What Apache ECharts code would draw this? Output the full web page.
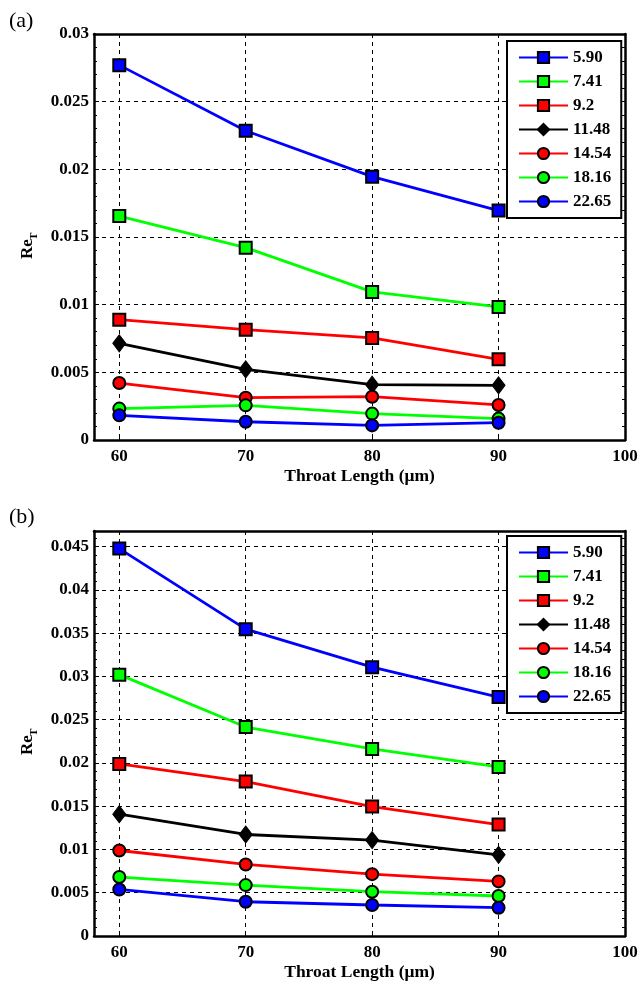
<!DOCTYPE html>
<html>
<head>
<meta charset="utf-8">
<script src="https://cdn.jsdelivr.net/npm/echarts@6/dist/echarts.min.js"></script>
<style>html,body{margin:0;padding:0;background:#fff;}#c{width:641px;height:985px;}</style>
</head>
<body>
<div id="c"></div>
<script>
// ---- data ----
const throatLength = [60, 70, 80, 90];
const xTickValues = [60, 70, 80, 90, 100];
const seriesNames = ['5.90', '7.41', '9.2', '11.48', '14.54', '18.16', '22.65'];
const seriesColors = ['#0000ff', '#00ff00', '#ff0000', '#000000', '#ff0000', '#00ff00', '#0000ff'];
const seriesSymbols = ['rect', 'rect', 'rect', 'diamond', 'circle', 'circle', 'circle'];
const yMaxA = 0.03;
const yMaxB = 0.0468;

// panel (a)
const a_590 = [0.0277, 0.02285, 0.01946, 0.01695];
const a_741 = [0.01655, 0.01421, 0.01094, 0.00983];
const a_920 = [0.00889, 0.00815, 0.00754, 0.00596];
const a_1148 = [0.00714, 0.00522, 0.00409, 0.00404];
const a_1454 = [0.00421, 0.00313, 0.0032, 0.00259];
const a_1816 = [0.00232, 0.00256, 0.00195, 0.00158];
const a_2265 = [0.00182, 0.00135, 0.00108, 0.00128];

// panel (b)
const b_590 = [0.04477, 0.03546, 0.03107, 0.02761];
const b_741 = [0.0302, 0.02415, 0.02162, 0.01954];
const b_920 = [0.01988, 0.01785, 0.01496, 0.01288];
const b_1148 = [0.01408, 0.01173, 0.01108, 0.00938];
const b_1454 = [0.00988, 0.00827, 0.00715, 0.00631];
const b_1816 = [0.00681, 0.00588, 0.00512, 0.00462];
const b_2265 = [0.00538, 0.00396, 0.00358, 0.00327];

const panelA = [a_590, a_741, a_920, a_1148, a_1454, a_1816, a_2265];
const panelB = [b_590, b_741, b_920, b_1148, b_1454, b_1816, b_2265];

// ---- chart ----
const FONT = "'Liberation Serif', 'Times New Roman', serif";
const chart = echarts.init(document.getElementById('c'), null, {renderer: 'canvas'});

const grids = [
  {left: 94, top: 34, width: 531, height: 406},
  {left: 94, top: 531, width: 531, height: 405}
];

const dashed = {type: [4, 4], color: '#000', width: 1};

function bottomX(gi) {
  return {
    gridIndex: gi, type: 'value', min: 58, max: 100, position: 'bottom',
    axisLine: {show: true, onZero: false, lineStyle: {color: '#000', width: 2.5}},
    axisTick: {show: true, inside: true, length: 5, customValues: xTickValues, lineStyle: {color: '#000'}},
    axisLabel: {customValues: xTickValues, color: '#000', fontSize: 17, fontWeight: 'bold', fontFamily: FONT, margin: 8},
    splitLine: {show: true, lineStyle: dashed},
    name: 'Throat Length (\u03bcm)', nameLocation: 'middle', nameGap: 27,
    nameTextStyle: {color: '#000', fontSize: 17.5, fontWeight: 'bold', fontFamily: FONT}
  };
}
function topX(gi) {
  return {
    gridIndex: gi, type: 'value', min: 58, max: 100, position: 'top',
    axisLine: {show: true, onZero: false, lineStyle: {color: '#000', width: 2.5}},
    axisTick: {show: false}, axisLabel: {show: false}, splitLine: {show: false}
  };
}
function leftY(gi, max) {
  return {
    gridIndex: gi, type: 'value', min: 0, max: max, interval: 0.005, position: 'left',
    axisLine: {show: true, onZero: false, lineStyle: {color: '#000', width: 2.5}},
    axisTick: {show: true, inside: true, length: 5, lineStyle: {color: '#000'}},
    minorTick: {show: true, splitNumber: 5, length: 3, lineStyle: {color: '#000'}},
    axisLabel: {color: '#000', fontSize: 17, fontWeight: 'bold', fontFamily: FONT, margin: 5, showMaxLabel: max === yMaxA},
    splitLine: {show: true, lineStyle: dashed}
  };
}
function rightY(gi, max) {
  return {
    gridIndex: gi, type: 'value', min: 0, max: max, interval: 0.005, position: 'right',
    axisLine: {show: true, onZero: false, lineStyle: {color: '#000', width: 2.5}},
    axisTick: {show: true, inside: true, length: 5, lineStyle: {color: '#000'}},
    minorTick: {show: true, splitNumber: 5, length: 3, lineStyle: {color: '#000'}},
    axisLabel: {show: false}, splitLine: {show: false}
  };
}

function makeSeries(panel, gi) {
  return panel.map((vals, k) => ({
    name: seriesNames[k], type: 'line',
    xAxisIndex: gi * 2, yAxisIndex: gi * 2,
    data: throatLength.map((x, j) => [x, vals[j]]),
    symbol: seriesSymbols[k],
    symbolSize: seriesSymbols[k] === 'diamond' ? [13, 17] : 12,
    showAllSymbol: true,
    lineStyle: {color: seriesColors[k], width: 2.8},
    itemStyle: {color: seriesColors[k], borderColor: '#000', borderWidth: seriesSymbols[k] === 'diamond' ? 1 : 2},
    emphasis: {disabled: true},
    z: 3 + k * 0.01
  }));
}

function legendAt(top) {
  return {
    orient: 'vertical', left: 507, top: top,
    padding: [8, 10, 8, 11], itemWidth: 49, itemHeight: 14, itemGap: 7,
    borderColor: '#000', borderWidth: 2, backgroundColor: '#fff',
    textStyle: {color: '#000', fontSize: 17, fontWeight: 'bold', fontFamily: FONT, lineHeight: 17},
    data: seriesNames, selectedMode: false, z: 10
  };
}

function reLabel(cy) {
  return {
    type: 'group', x: 28, y: cy, rotation: Math.PI / 2,
    children: [
      {type: 'text', x: -14, y: 0, style: {text: 'Re', fontSize: 17, fontWeight: 'bold', fontFamily: FONT, fill: '#000', align: 'left', verticalAlign: 'middle'}},
      {type: 'text', x: 5, y: 6, style: {text: 'T', fontSize: 11, fontWeight: 'bold', fontFamily: FONT, fill: '#000', align: 'left', verticalAlign: 'middle'}}
    ]
  };
}

chart.setOption({
  animation: false,
  backgroundColor: '#fff',
  grid: grids,
  xAxis: [bottomX(0), topX(0), bottomX(1), topX(1)],
  yAxis: [leftY(0, yMaxA), rightY(0, yMaxA), leftY(1, yMaxB), rightY(1, yMaxB)],
  legend: [legendAt(41), legendAt(536)],
  series: makeSeries(panelA, 0).concat(makeSeries(panelB, 1)),
  graphic: [
    {type: 'text', left: 9, top: 10, style: {text: '(a)', fontSize: 22, fontFamily: FONT, fill: '#000'}},
    {type: 'text', left: 9, top: 506, style: {text: '(b)', fontSize: 22, fontFamily: FONT, fill: '#000'}},
    reLabel(245),
    reLabel(741)
  ]
});
</script>
</body>
</html>
